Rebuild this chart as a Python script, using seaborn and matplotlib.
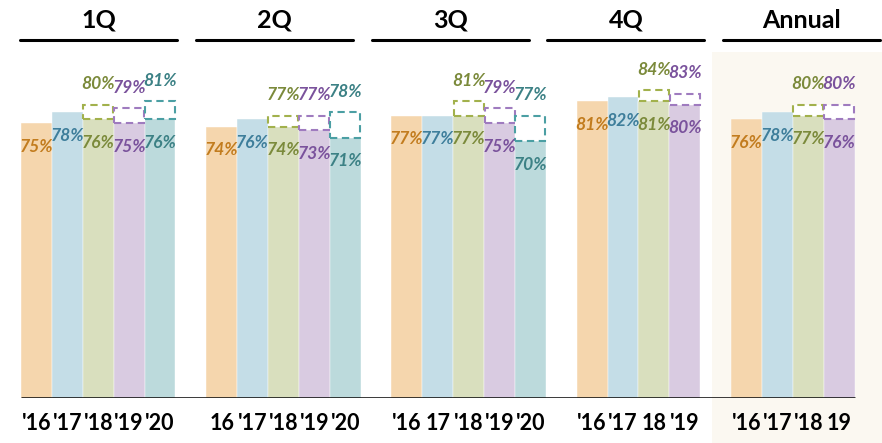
import pandas as pd
import numpy as np
import matplotlib
matplotlib.use("Agg")
import matplotlib.pyplot as plt
from matplotlib.lines import Line2D
from matplotlib.patches import Rectangle
import seaborn as sns

# data
groups = ["1Q", "2Q", "3Q", "4Q", "Annual"]
years = ["'16", "'17", "'18", "'19", "'20"]
q1_actual = [75, 78, 76, 75, 76]
q2_actual = [74, 76, 74, 73, 71]
q3_actual = [77, 77, 77, 75, 70]
q4_actual = [81, 82, 81, 80]
annual_actual = [76, 78, 77, 76]
# targets (dashed boxes) for '18, '19, '20
q1_target = [None, None, 80, 79, 81]
q2_target = [None, None, 77, 77, 78]
q3_target = [None, None, 81, 79, 77]
q4_target = [None, None, 84, 83]
annual_target = [None, None, 80, 80]
tick_labels = ["'16", "'17", "'18", "'19", "'20",
               "16", "'17", "'18", "'19", "'20",
               "'16", "17", "'18", "'19", "'20",
               "'16", "'17", "18", "'19",
               "'16", "'17", "'18", "19"]

fill_colors = {"'16": "#F5D6AD", "'17": "#C4DDE7", "'18": "#D9DFBE",
               "'19": "#D9CBE1", "'20": "#BCDADC"}
text_colors = {"'16": "#C27C1E", "'17": "#3E7E9B", "'18": "#7B8A3B",
               "'19": "#7A529C", "'20": "#3C8185"}
dash_colors = {"'18": "#A2B14C", "'19": "#9F7BBF", "'20": "#4B9FA3"}

all_actual = [q1_actual, q2_actual, q3_actual, q4_actual, annual_actual]
all_target = [q1_target, q2_target, q3_target, q4_target, annual_target]
group_start = [0, 6, 12, 18, 23]

rows = []
for g, start, acts, tars in zip(groups, group_start, all_actual, all_target):
    for i, (a, t) in enumerate(zip(acts, tars)):
        rows.append({"group": g, "year": years[i], "slot": start + i,
                     "actual": a, "target": t})
df = pd.DataFrame(rows)

sns.set_theme(style="white")
plt.rcParams["font.family"] = ["Lato", "DejaVu Sans"]

fig = plt.figure(figsize=(8.82, 4.43), dpi=100)
# cream panel behind the annual group
fig.patches.append(Rectangle((712 / 882, 0), 1 - 712 / 882, 1 - 52 / 443,
                             transform=fig.transFigure, facecolor="#FBF8F1",
                             edgecolor="none", zorder=-1))
ax = fig.add_axes([0, 45 / 443, 1, 398 / 443])
ax.patch.set_alpha(0)

sns.barplot(data=df, x="slot", y="actual", hue="year", palette=fill_colors,
            native_scale=True, dodge=False, width=1.0, legend=False,
            saturation=1, edgecolor="#FFFFFF", linewidth=0.3, ax=ax,
            errorbar=None)

label_kw = dict(ha="center", va="center", fontsize=12.6, fontweight="bold",
                fontstyle="italic", zorder=4)

tgt = df.dropna(subset=["target"])
for _, r in tgt.iterrows():
    ax.bar(r["slot"], r["target"] - r["actual"], bottom=r["actual"], width=0.97,
           facecolor="white", edgecolor=dash_colors[r["year"]], linewidth=1.5,
           linestyle=(0, (3.5, 2.2)), zorder=3)
    ax.text(r["slot"], r["target"] + 5.5, f"{int(r['target'])}%",
            color=text_colors[r["year"]], **label_kw)

for _, r in df.iterrows():
    ax.text(r["slot"], r["actual"] - 6.5, f"{int(r['actual'])}%",
            color=text_colors[r["year"]], **label_kw)

ax.hlines(0, df["slot"].min() - 0.5, df["slot"].max() + 0.5, color="black",
          linewidth=1.8, zorder=5)

ax.set_xlim(-1.182, 27.39)
ax.set_ylim(0, 108.5)
ax.set_xticks(df["slot"])
ax.set_xticklabels(tick_labels, fontsize=15.5, fontweight="bold", color="black")
ax.tick_params(axis="x", length=0, pad=11)
ax.set_yticks([])
ax.set_xlabel("")
ax.set_ylabel("")
sns.despine(ax=ax, left=True, bottom=True)

# group headers with rules underneath
for k, g in enumerate(groups):
    x0 = (20 + 175.8 * k) / 882
    x1 = x0 + 157 / 882
    fig.add_artist(Line2D([x0, x1], [1 - 40 / 443] * 2, color="black",
                          linewidth=2.2, transform=fig.transFigure))
    fig.text((x0 + x1) / 2, 1 - 20 / 443, g, ha="center", va="center",
             fontsize=18, fontweight="bold", color="black")

fig.savefig("out.png", dpi=100)
